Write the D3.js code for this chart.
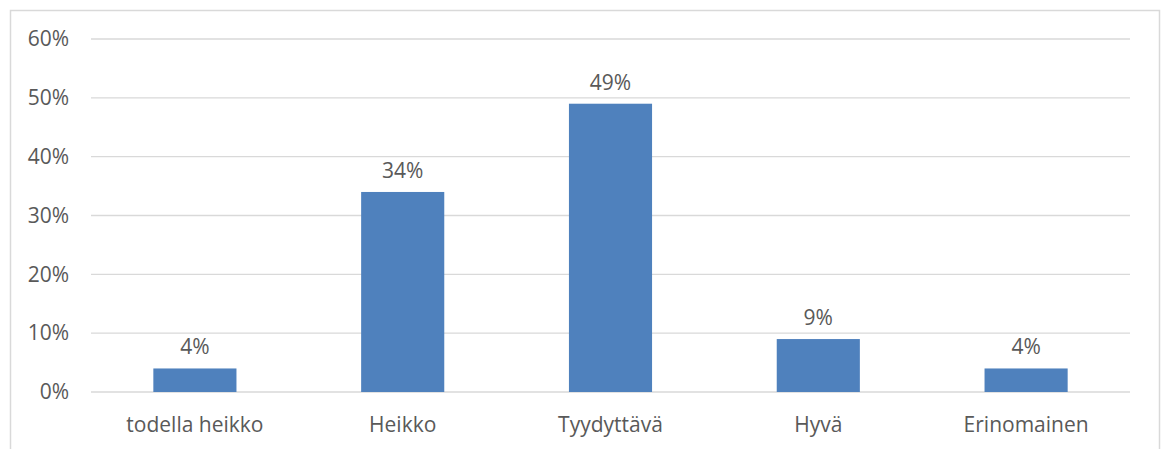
<!DOCTYPE html>
<html>
<head>
<meta charset="utf-8">
<script src="https://cdn.jsdelivr.net/npm/d3@7"></script>
<style>
  html, body { margin: 0; padding: 0; background: #ffffff; }
  svg { display: block; }
  text { font-family: "Open Sans", "Liberation Sans", sans-serif; fill: #595959; }
</style>
</head>
<body>
<svg id="chart" width="1165" height="449"></svg>
<script>
// Rating categories and share of responses
const categories = ["todella heikko", "Heikko", "Tyydyttävä", "Hyvä", "Erinomainen"];
const values = [0.04, 0.34, 0.49, 0.09, 0.04];
const valueLabels = ["4%", "34%", "49%", "9%", "4%"];
const yTicks = [0, 0.1, 0.2, 0.3, 0.4, 0.5, 0.6];

const svg = d3.select("#chart");
const W = 1165, H = 449;
const plot = { left: 91, right: 1130, top: 39, bottom: 392 };
const fontSize = 21;

// Chart frame (open at the bottom edge of the view)
svg.append("path")
  .attr("d", `M10.5,${H + 2} V10.5 H1159.5 V${H + 2}`)
  .attr("fill", "none")
  .attr("stroke", "#d9d9d9")
  .attr("stroke-width", 1.5);

const x = d3.scaleBand()
  .domain(categories)
  .range([plot.left, plot.right])
  .paddingInner(0.6)
  .paddingOuter(0.3);

const y = d3.scaleLinear()
  .domain([0, 0.6])
  .range([plot.bottom, plot.top]);

// Horizontal gridlines
svg.append("g")
  .selectAll("line")
  .data(yTicks)
  .join("line")
  .attr("x1", plot.left)
  .attr("x2", plot.right)
  .attr("y1", d => y(d))
  .attr("y2", d => y(d))
  .attr("stroke", "#d9d9d9")
  .attr("stroke-width", 1.3);

// Y axis labels
const yAxis = d3.axisLeft(y)
  .tickValues(yTicks)
  .tickFormat(d3.format(".0%"))
  .tickSize(0)
  .tickPadding(22);
const yg = svg.append("g")
  .attr("transform", `translate(${plot.left},0)`)
  .call(yAxis);
yg.select(".domain").remove();
yg.selectAll("text")
  .attr("font-size", fontSize)
  .attr("font-family", null)
  .attr("fill", "#595959");

// X axis labels
const xAxis = d3.axisBottom(x).tickSize(0).tickPadding(25);
const xg = svg.append("g")
  .attr("transform", `translate(0,${plot.bottom})`)
  .call(xAxis);
xg.select(".domain").remove();
xg.selectAll("text")
  .attr("font-size", fontSize)
  .attr("font-family", null)
  .attr("fill", "#595959");

// Bars
svg.append("g")
  .selectAll("rect")
  .data(values)
  .join("rect")
  .attr("x", (d, i) => x(categories[i]))
  .attr("width", x.bandwidth())
  .attr("y", d => y(d))
  .attr("height", d => plot.bottom - y(d))
  .attr("fill", "#4f81bd");

// Value labels above bars
svg.append("g")
  .selectAll("text")
  .data(values)
  .join("text")
  .attr("x", (d, i) => x(categories[i]) + x.bandwidth() / 2)
  .attr("y", d => y(d) - 14)
  .attr("text-anchor", "middle")
  .attr("font-size", fontSize)
  .text((d, i) => valueLabels[i]);
</script>
</body>
</html>
